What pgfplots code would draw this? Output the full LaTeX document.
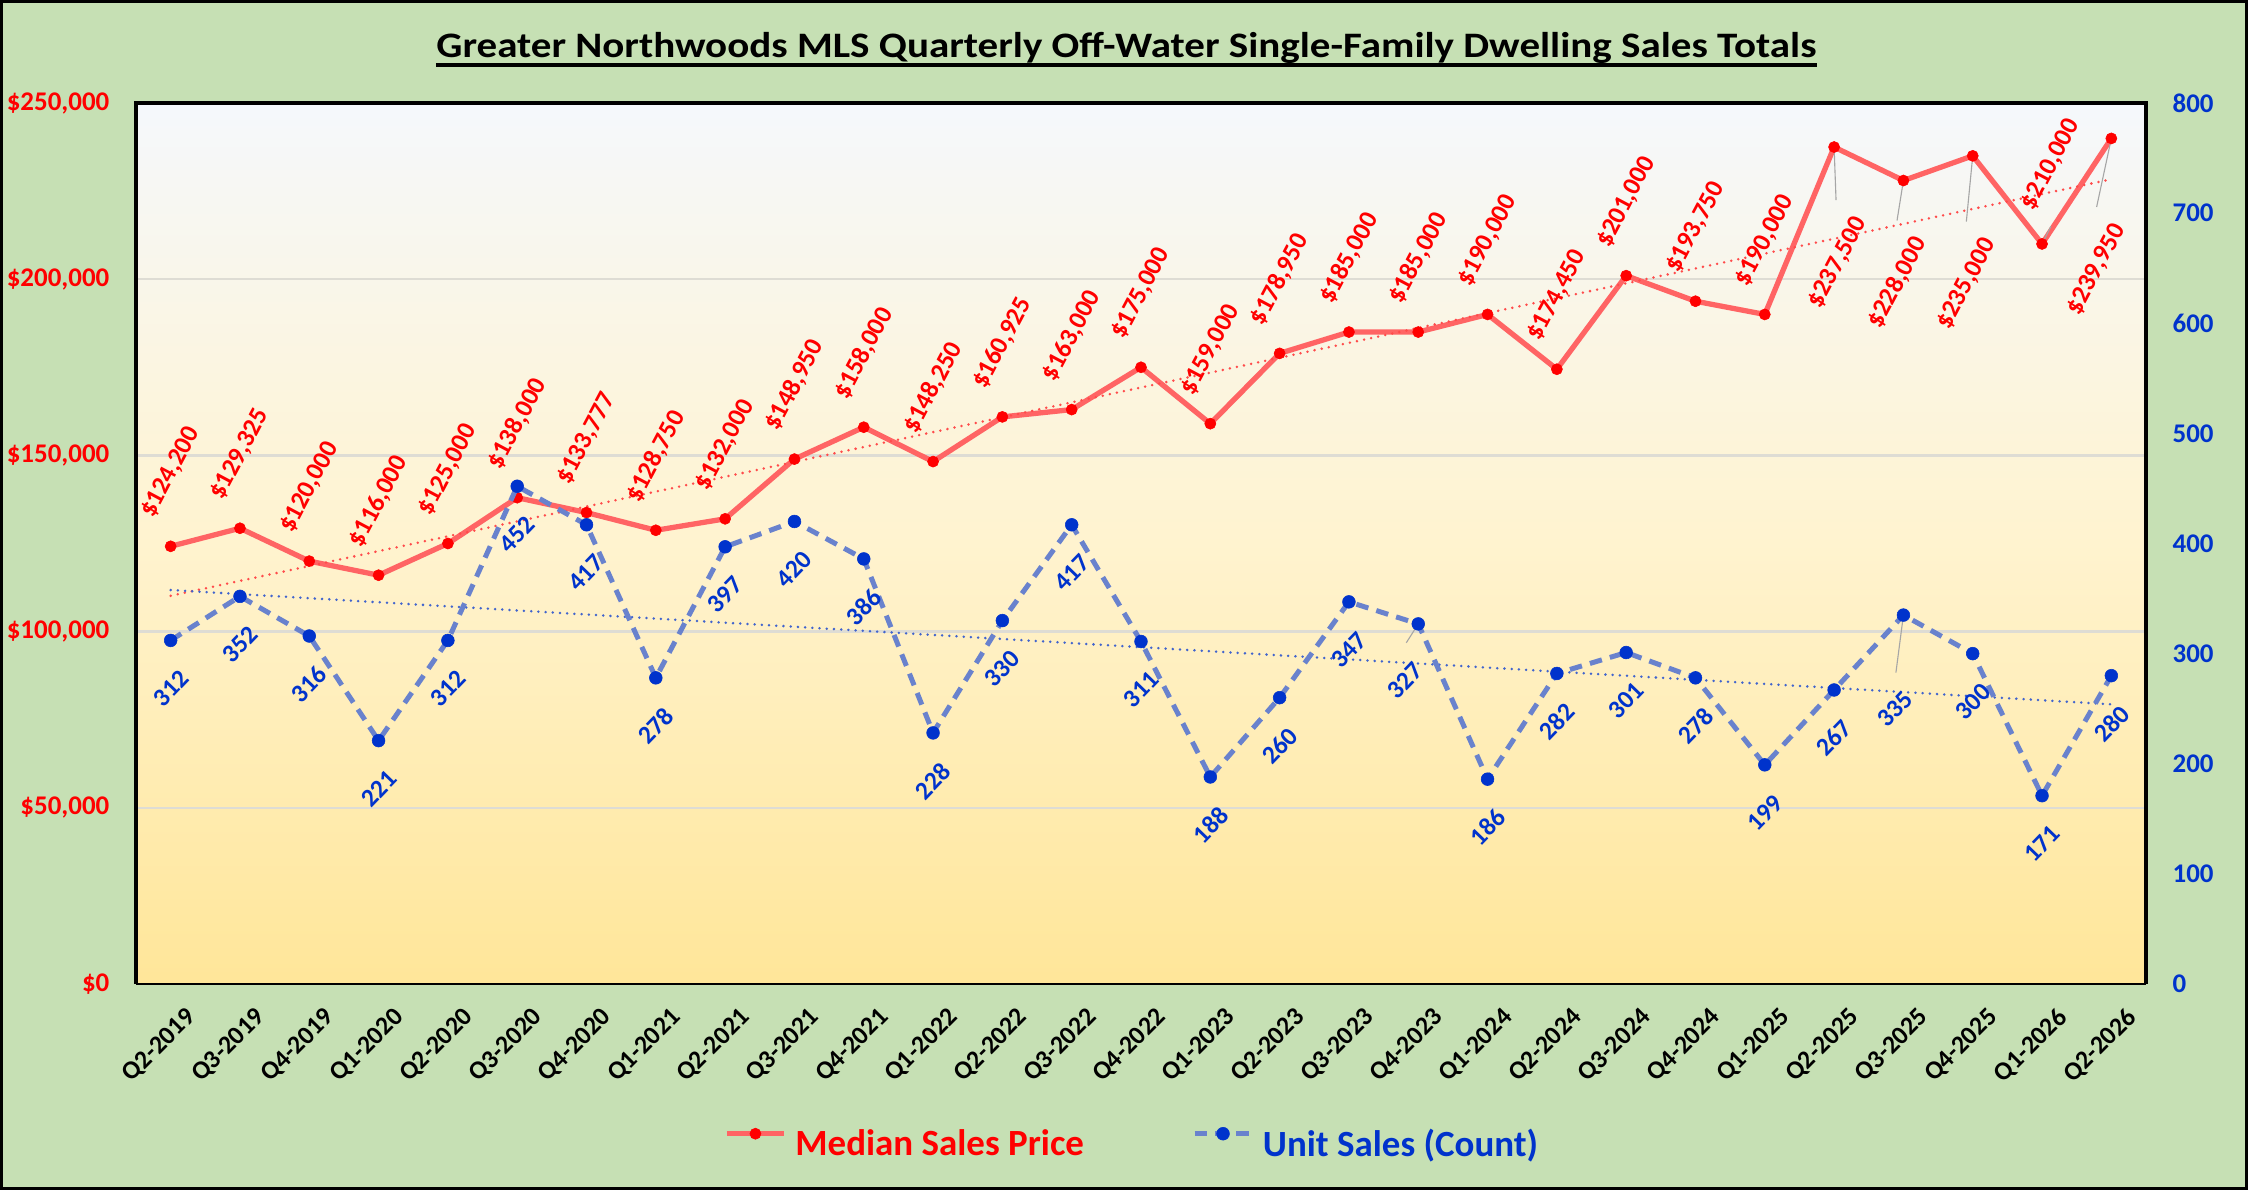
\documentclass[border=0pt]{standalone}
\usepackage{fontspec}
\setmainfont{Carlito}
\newfontfamily\titlefont{Carlito}[FakeStretch=1.145]
\usepackage{pgfplots}
\pgfplotsset{compat=1.18}
\usepackage{pgfplotstable}

\definecolor{bggreen}{RGB}{198,224,180}
\definecolor{bgtop}{RGB}{245,248,252}
\definecolor{bgmid}{RGB}{255,243,207}
\definecolor{bgbot}{RGB}{255,230,153}
\definecolor{redline}{RGB}{255,100,100}
\definecolor{redmark}{RGB}{255,0,0}
\definecolor{redtxt}{RGB}{255,0,0}
\definecolor{blueline}{RGB}{105,130,205}
\definecolor{bluemark}{RGB}{0,51,204}
\definecolor{bluetxt}{RGB}{0,51,204}
\definecolor{redtrend}{RGB}{255,75,75}
\definecolor{bluetrend}{RGB}{65,100,205}
\definecolor{gridc}{RGB}{222,220,212}
\definecolor{leader}{RGB}{166,166,166}

\pgfdeclareverticalshading{plotbg}{100bp}{color(0bp)=(bgbot); color(25bp)=(bgbot); color(50bp)=(bgmid); color(75bp)=(bgtop); color(100bp)=(bgtop)}

\pgfplotstableread{
x price units
0 124200 312
1 129325 352
2 120000 316
3 116000 221
4 125000 312
5 138000 452
6 133777 417
7 128750 278
8 132000 397
9 148950 420
10 158000 386
11 148250 228
12 160925 330
13 163000 417
14 175000 311
15 159000 188
16 178950 260
17 185000 347
18 185000 327
19 190000 186
20 174450 282
21 201000 301
22 193750 278
23 190000 199
24 237500 267
25 228000 335
26 235000 300
27 210000 171
28 239950 280
}\datatable

\pgfplotsset{
  redlab/.style 2 args={draw=none, mark=none, forget plot, point meta=y,
    nodes near coords={\$\pgfmathprintnumber[fixed,precision=0,1000 sep={,},assume math mode=true]{\pgfplotspointmeta}},
    nodes near coords style={xshift=#1, yshift=#2, rotate=62, anchor=center, inner sep=0pt, text=redtxt, font=\bfseries\fontsize{9.3}{10}\selectfont}},
  bluelab/.style 2 args={draw=none, mark=none, forget plot, point meta=y,
    nodes near coords={\pgfmathprintnumber[fixed,precision=0,assume math mode=true]{\pgfplotspointmeta}},
    nodes near coords style={xshift=#1, yshift=#2, rotate=46, anchor=center, inner sep=0pt, text=bluetxt, font=\bfseries\fontsize{9.2}{10}\selectfont}},
}

\begin{document}
\begin{tikzpicture}
\fill[bggreen] (0,0) rectangle (809.28pt,428.4pt);
\draw[black, line width=1pt] (0.5pt,0.5pt) rectangle (808.78pt,427.9pt);

\node[anchor=base, inner sep=0pt, font=\titlefont\bfseries\fontsize{12.9}{15}\selectfont] (title) at (405.5pt,407.7pt)
  {Greater Northwoods MLS Quarterly Off-Water Single-Family Dwelling Sales Totals};
\draw[black, line width=1.1pt] ([yshift=-2.7pt]title.base west) -- ([yshift=-2.7pt]title.base east);

\begin{axis}[
  at={(48.96pt,74.16pt)}, anchor=south west,
  scale only axis, width=723.6pt, height=317.16pt,
  xmin=-0.5, xmax=28.5, ymin=0, ymax=250000,
  clip=false,
  axis line style={draw=none},
  major tick length=0pt,
  xtick={0,...,28},
  xticklabels={Q2-2019,Q3-2019,Q4-2019,Q1-2020,Q2-2020,Q3-2020,Q4-2020,Q1-2021,Q2-2021,Q3-2021,Q4-2021,Q1-2022,Q2-2022,Q3-2022,Q4-2022,Q1-2023,Q2-2023,Q3-2023,Q4-2023,Q1-2024,Q2-2024,Q3-2024,Q4-2024,Q1-2025,Q2-2025,Q3-2025,Q4-2025,Q1-2026,Q2-2026},
  xticklabel style={font=\bfseries\fontsize{9.3}{10}\selectfont, rotate=45, anchor=north east, inner sep=0pt, xshift=-2pt, yshift=-9pt},
  ytick={0,50000,100000,150000,200000,250000},
  yticklabels={{\$0},{\$50,000},{\$100,000},{\$150,000},{\$200,000},{\$250,000}},
  yticklabel style={font=\bfseries\fontsize{9.7}{10}\selectfont, text=redtxt, inner sep=0pt, xshift=-9.4pt},
  scaled y ticks=false,
  ymajorgrids, grid style={gridc, line width=0.8pt},
  axis background/.style={shading=plotbg},
]
\addplot[redline, line width=1.9pt, mark=*, mark size=2pt,
  mark options={solid, draw=redmark, line width=0.2pt, fill=redmark}] table[x=x,y=price]{\datatable};
\addplot[redtrend, line width=1pt, line cap=round, dash pattern=on 0pt off 2.6pt] coordinates {(0,110164) (28,228372)};
% data labels
\addplot[redlab={0pt}{26.6pt}, restrict x to domain=0:23] table[x=x,y=price]{\datatable};
\addplot[redlab={1.3pt}{-41.6pt}, restrict x to domain=24:24] table[x=x,y=price]{\datatable};
\addplot[redlab={-2.2pt}{-36.7pt}, restrict x to domain=25:25] table[x=x,y=price]{\datatable};
\addplot[redlab={-2.2pt}{-46pt}, restrict x to domain=26:26] table[x=x,y=price]{\datatable};
\addplot[redlab={3.2pt}{28.6pt}, restrict x to domain=27:27] table[x=x,y=price]{\datatable};
\addplot[redlab={-5.4pt}{-47.2pt}, restrict x to domain=28:28] table[x=x,y=price]{\datatable};
\draw[leader, line width=0.4pt] (axis cs:24,237500) -- ++(0.7pt,-19.1pt);
\draw[leader, line width=0.4pt] (axis cs:25,228000) -- ++(-2.3pt,-14.4pt);
\draw[leader, line width=0.4pt] (axis cs:26,235000) -- ++(-2.3pt,-23.7pt);
\draw[leader, line width=0.4pt] (axis cs:27,210000) -- ++(3.2pt,6.4pt);
\draw[leader, line width=0.4pt] (axis cs:28,239950) -- ++(-5.3pt,-24.7pt);
\end{axis}

\begin{axis}[
  at={(48.96pt,74.16pt)}, anchor=south west,
  scale only axis, width=723.6pt, height=317.16pt,
  xmin=-0.5, xmax=28.5, ymin=0, ymax=800,
  clip=false,
  axis line style={draw=none},
  major tick length=0pt,
  xtick=\empty,
  ytick={0,100,200,300,400,500,600,700,800},
  yticklabels={0,100,200,300,400,500,600,700,800},
  yticklabel pos=right,
  yticklabel style={font=\bfseries\fontsize{9.7}{10}\selectfont, text=bluetxt, inner sep=0pt, anchor=west, xshift=9.4pt},
  legend columns=2,
  legend style={draw=none, fill=none, at={(0.2927,-0.1816)}, anchor=west, inner sep=0pt, outer sep=0pt,
    font=\bfseries\fontsize{13.3}{15}\selectfont, nodes={inner sep=0pt},
    /tikz/every odd column/.style={column sep=3.2pt},
    /tikz/every even column/.style={column sep=38.9pt}},
  legend image code/.code={\draw[mark repeat=2, mark phase=2, #1] plot coordinates {(0pt,4pt) (10.25pt,4pt) (20.5pt,4pt)};},
]
\addlegendimage{redline, line width=1.9pt, mark=*, mark size=2pt, mark options={solid, draw=redmark, line width=0.2pt, fill=redmark}}
\addlegendentry{\textcolor{redtxt}{Median Sales Price}}
\addlegendimage{blueline, line width=1.8pt, dash pattern=on 4.5pt off 3pt, mark=*, mark size=2.3pt, mark options={solid, draw=bluemark, line width=0.2pt, fill=bluemark}}
\addlegendentry{\textcolor{bluetxt}{Unit Sales (Count)}}

\addplot[bluetrend, line width=1pt, line cap=round, dash pattern=on 0pt off 2.6pt, forget plot] coordinates {(0,357.76) (28,253.96)};
\addplot[blueline, line width=1.8pt, dash pattern=on 4.5pt off 3pt, mark=*, mark size=2.3pt,
  mark options={solid, draw=bluemark, line width=0.2pt, fill=bluemark}, forget plot] table[x=x,y=units]{\datatable};
\addplot[bluelab={0pt}{-17.3pt}, restrict x to domain=0:17] table[x=x,y=units]{\datatable};
\addplot[bluelab={-4.7pt}{-20.5pt}, restrict x to domain=18:18] table[x=x,y=units]{\datatable};
\addplot[bluelab={0pt}{-17.3pt}, restrict x to domain=19:24] table[x=x,y=units]{\datatable};
\addplot[bluelab={-2.9pt}{-33.8pt}, restrict x to domain=25:25] table[x=x,y=units]{\datatable};
\addplot[bluelab={0pt}{-17.3pt}, restrict x to domain=26:28] table[x=x,y=units]{\datatable};
\draw[leader, line width=0.4pt] (axis cs:18,327) -- ++(-4.3pt,-6.8pt);
\draw[leader, line width=0.4pt] (axis cs:25,335) -- ++(-2.7pt,-20.7pt);
\draw[black, line width=1.1pt] (rel axis cs:0,0) -- (rel axis cs:0,1) -- (rel axis cs:1,1) -- (rel axis cs:1,0);
\draw[black, line width=0.5pt] (rel axis cs:0,0) -- (rel axis cs:1,0);
\end{axis}
\pgfresetboundingbox
\path[use as bounding box] (0,0) rectangle (809.28pt,428.4pt);
\end{tikzpicture}
\end{document}
